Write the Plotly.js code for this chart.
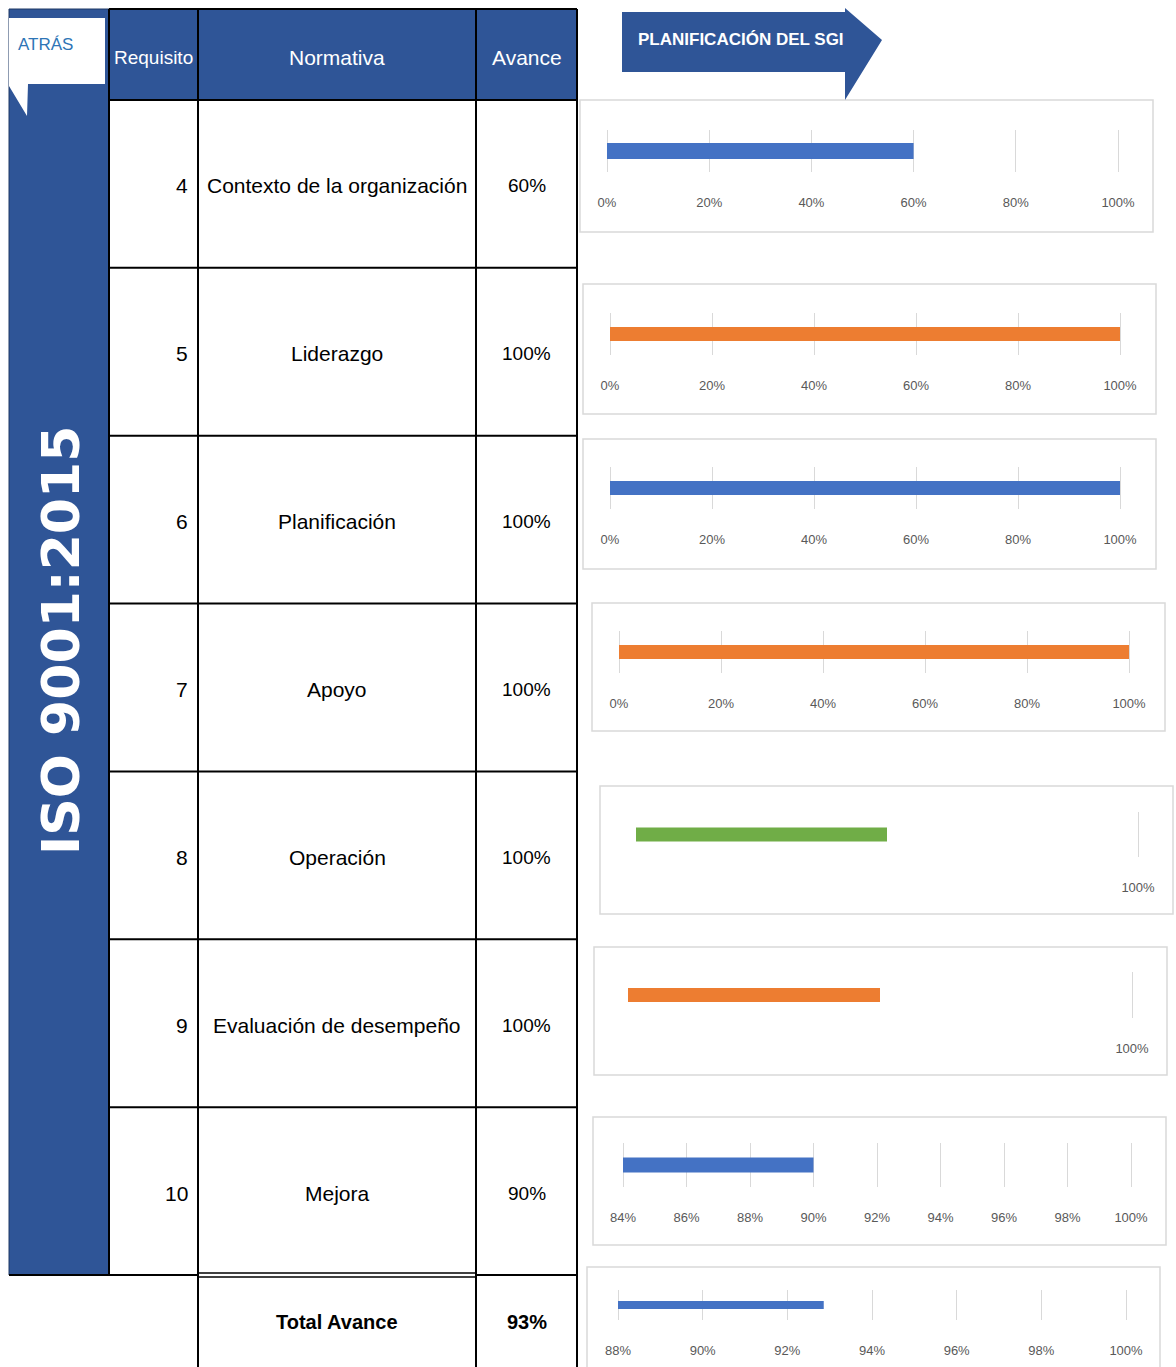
<!DOCTYPE html>
<html><head><meta charset="utf-8">
<script src="https://cdn.plot.ly/plotly-3.0.1.min.js"></script>
<style>html,body{margin:0;padding:0;background:#fff;}</style>
</head><body><div id="chart" style="width:1176px;height:1367px;"></div>
<script>
// ---- DATA ----
const headers = ['Requisito', 'Normativa', 'Avance'];
const requisitos = ['4', '5', '6', '7', '8', '9', '10'];
const normativas = ['Contexto de la organización', 'Liderazgo', 'Planificación', 'Apoyo', 'Operación', 'Evaluación de desempeño', 'Mejora'];
const avances = ['60%', '100%', '100%', '100%', '100%', '100%', '90%'];
const totalLabel = 'Total Avance';
const totalAvance = '93%';
const normaTitle = 'ISO 9001:2015';
const backLabel = 'ATRÁS';
const sectionTitle = 'PLANIFICACIÓN DEL SGI';

const barValues = [0.60, 1.00, 1.00, 1.00, 0.50, 0.50, 0.90, 0.9286];
const axisMin   = [0, 0, 0, 0, 0, 0, 0.84, 0.88];
const axisMax   = [1, 1, 1, 1, 1, 1, 1, 1];
const tickSteps = [0.2, 0.2, 0.2, 0.2, null, null, 0.02, 0.02];
const barColors = ['#4472C4', '#ED7D31', '#4472C4', '#ED7D31', '#70AD47', '#ED7D31', '#4472C4', '#4472C4'];

// ---- LAYOUT GEOMETRY (pixels) ----
const W = 1176, H = 1367;
const fx = x => x / W, fy = y => 1 - y / H;
const FONT = '"Liberation Sans", Arial, sans-serif';
const BLUE = '#2F5597';

const chartGeom = [
  {left: 607, right: 1118, gTop: 130, gBot: 172, thick: 16, box: [580, 100, 1153, 232]},
  {left: 610, right: 1120, gTop: 313, gBot: 355, thick: 14, box: [583, 284, 1156, 414]},
  {left: 610, right: 1120, gTop: 467, gBot: 509, thick: 14, box: [583, 439, 1156, 569]},
  {left: 619, right: 1129, gTop: 631, gBot: 673, thick: 14, box: [592, 603, 1165, 731]},
  {left: 636, right: 1138, gTop: 812, gBot: 857, thick: 14, box: [600, 786, 1173, 914]},
  {left: 628, right: 1132, gTop: 972, gBot: 1018, thick: 14, box: [594, 947, 1167, 1075]},
  {left: 623, right: 1131, gTop: 1143, gBot: 1187, thick: 15, box: [593, 1117, 1166, 1245]},
  {left: 618, right: 1126, gTop: 1290, gBot: 1320, thick: 8, box: [587, 1267, 1160, 1380]}
];

const layout = {
  width: W, height: H, margin: {l: 0, r: 0, t: 0, b: 0},
  paper_bgcolor: '#ffffff', plot_bgcolor: 'rgba(0,0,0,0)',
  showlegend: false, shapes: [], annotations: [], hovermode: false
};
const traces = [];

function pathOf(pts) {
  return 'M ' + pts.map(p => fx(p[0]) + ',' + fy(p[1])).join(' L ') + ' Z';
}
function rect(x0, y0, x1, y1, fill, line, lw, layer) {
  layout.shapes.push({type: 'rect', xref: 'paper', yref: 'paper', x0: fx(x0), x1: fx(x1), y0: fy(y1), y1: fy(y0),
    fillcolor: fill, line: {color: line, width: lw}, layer: layer || 'below'});
}
function hline(y, x0, x1, w) {
  layout.shapes.push({type: 'line', xref: 'paper', yref: 'paper', x0: fx(x0), x1: fx(x1), y0: fy(y), y1: fy(y),
    line: {color: '#000', width: w || 2}, layer: 'above'});
}
function vline(x, y0, y1, w) {
  layout.shapes.push({type: 'line', xref: 'paper', yref: 'paper', x0: fx(x), x1: fx(x), y0: fy(y0), y1: fy(y1),
    line: {color: '#000', width: w || 2}, layer: 'above'});
}
function ann(x, y, text, size, color, opts) {
  layout.annotations.push(Object.assign({xref: 'paper', yref: 'paper', x: fx(x), y: fy(y), text: text,
    showarrow: false, xanchor: 'center', yanchor: 'middle',
    font: {family: FONT, size: size, color: color}}, opts || {}));
}

// ---- TABLE ----
const colX = [109, 198, 476, 577];
const tableTop = 9, headBot = 100, rowH = (1275 - 100) / requisitos.length, tableBot = 1275, totalBot = 1367;

// blue band & header
rect(9, 9, 109, tableBot, BLUE, '#1F3864', 1);
rect(109, 9, 577, headBot, BLUE, '#000', 1);
// ATRÁS callout
layout.shapes.push({type: 'path', xref: 'paper', yref: 'paper', layer: 'above',
  path: pathOf([[9, 18], [105, 18], [105, 84], [28, 84], [27, 116], [9, 86]]),
  fillcolor: '#ffffff', line: {color: '#ffffff', width: 0}});
ann(45, 45, backLabel, 17, '#2E75B6');

// header text
ann((colX[0] + colX[1]) / 2, 57, headers[0], 19, '#ffffff');
ann((colX[1] + colX[2]) / 2, 57, headers[1], 21, '#ffffff');
ann((colX[2] + colX[3]) / 2, 57, headers[2], 21, '#ffffff');

// grid lines
hline(tableTop, 109, 577, 2);
hline(headBot, 109, 577, 2);
for (let i = 1; i < requisitos.length; i++) hline(headBot + i * rowH, 109, 577, 2);
hline(tableBot, 9, 198, 2);
hline(tableBot, 476, 577, 2);
hline(tableBot - 2, 198, 476, 1.5);
hline(tableBot + 2, 198, 476, 1.5);
vline(109, tableTop, tableBot, 2);
vline(198, tableTop, totalBot, 2);
vline(476, tableTop, totalBot, 2);
vline(577, tableTop, totalBot, 2);

// row text
requisitos.forEach((r, i) => {
  const cy = headBot + (i + 0.5) * rowH + 2;
  ann(190, cy, r, 21, '#000', {xanchor: 'right'});
  ann((colX[1] + colX[2]) / 2, cy, normativas[i], 21, '#000');
  ann((colX[2] + colX[3]) / 2, cy, avances[i], 19, '#000');
});
ann((colX[1] + colX[2]) / 2, 1322, '<b>' + totalLabel + '</b>', 20, '#000');
ann((colX[2] + colX[3]) / 2, 1322, '<b>' + totalAvance + '</b>', 20, '#000');

// vertical norm title
ann(61, 641, '<b>' + normaTitle + '</b>', 52, '#ffffff', {textangle: -90, font: {family: '"DejaVu Sans", sans-serif', size: 52, color: '#ffffff'}});

// section arrow
layout.shapes.push({type: 'path', xref: 'paper', yref: 'paper', layer: 'above',
  path: pathOf([[622, 12], [845, 12], [845, 8], [882, 40], [845, 100], [845, 72], [622, 72]]),
  fillcolor: BLUE, line: {color: BLUE, width: 0}});
ann(741, 40, '<b>' + sectionTitle + '</b>', 17, '#ffffff');

// ---- MINI BAR CHARTS ----
barValues.forEach((v, i) => {
  const g = chartGeom[i];
  const sfx = i === 0 ? '' : String(i + 1);
  const mn = axisMin[i], mx = axisMax[i], span = mx - mn;
  const pad = 0.03 * span;
  const ppu = (g.right - g.left) / span;
  const step = tickSteps[i];
  let tickvals = [];
  if (step) {
    const n = Math.round(span / step);
    for (let k = 0; k <= n; k++) tickvals.push(+(mn + k * step).toFixed(4));
  } else {
    tickvals = [mx];
  }
  rect(g.box[0], g.box[1], g.box[2], g.box[3], '#ffffff', '#D9D9D9', 1.5, 'below');

  layout['xaxis' + sfx] = {
    domain: [fx(g.left - pad * ppu), fx(g.right + pad * ppu)],
    range: [mn - pad, mx + pad], anchor: 'y' + sfx,
    tickvals: tickvals, tickformat: '.0%',
    showgrid: true, gridcolor: '#D9D9D9', gridwidth: 1,
    zeroline: false, showline: false, ticks: '', ticklabelstandoff: 21,
    tickfont: {family: FONT, size: 13, color: '#595959'}, fixedrange: true
  };
  layout['yaxis' + sfx] = {
    domain: [fy(g.gBot), fy(g.gTop)], range: [-0.5, 0.5], anchor: 'x' + sfx,
    showgrid: false, zeroline: false, showline: false, showticklabels: false, ticks: '', fixedrange: true
  };
  traces.push({
    type: 'bar', orientation: 'h', y: [0], x: [v - mn], base: [mn],
    width: [g.thick / (g.gBot - g.gTop)],
    marker: {color: barColors[i], line: {width: 0}},
    xaxis: 'x' + sfx, yaxis: 'y' + sfx, hoverinfo: 'skip'
  });
});

Plotly.newPlot('chart', traces, layout, {displayModeBar: false, staticPlot: true});
</script></body></html>
